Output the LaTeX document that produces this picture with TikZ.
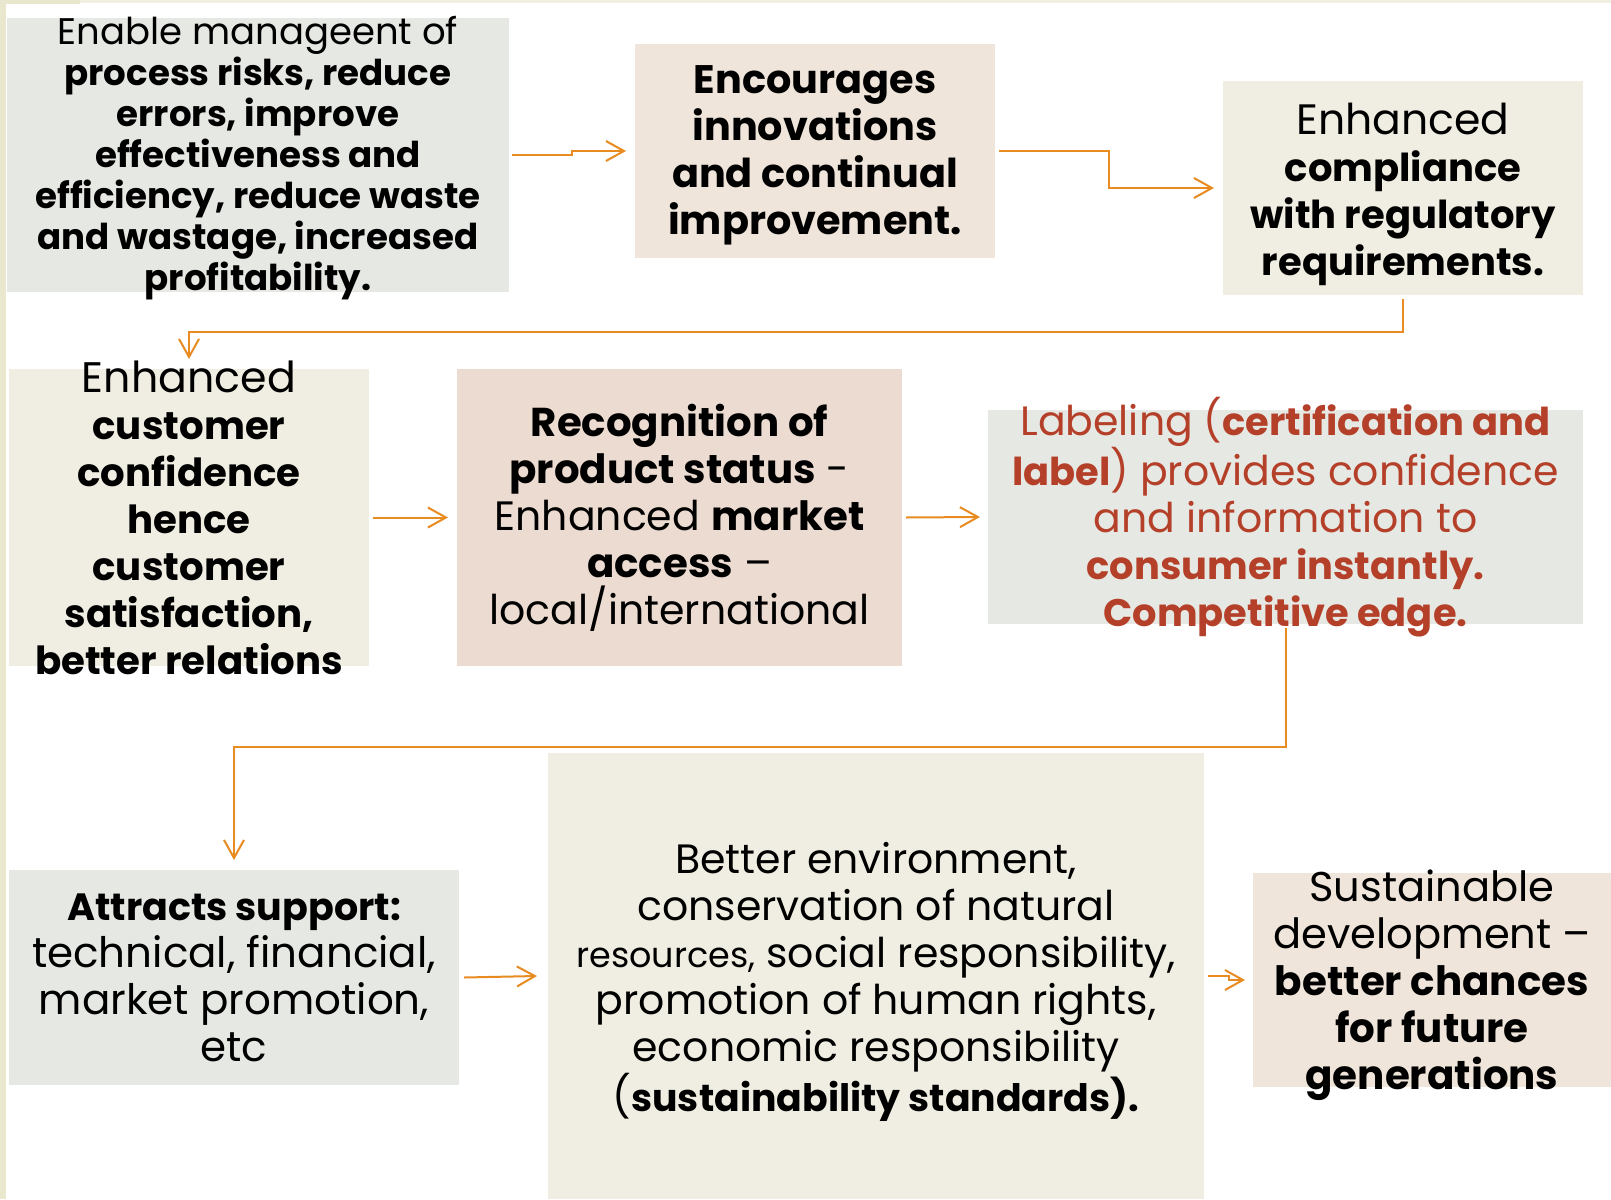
\documentclass[tikz,border=0pt]{standalone}
\usepackage{fontspec}
\setmainfont{Poppins}
\usetikzlibrary{arrows.meta}
\definecolor{cgrey}{HTML}{E6E8E3}
\definecolor{cbeige}{HTML}{EFE5DA}
\definecolor{ccream}{HTML}{F0EEE2}
\definecolor{cpink}{HTML}{ECDBD0}
\definecolor{cred}{HTML}{B5402A}
\definecolor{corange}{HTML}{E88B21}
\definecolor{cstrip}{HTML}{E9E7CE}
\definecolor{cstriptop}{HTML}{F1EFE0}
\newcommand\bx[2]{{\fontsize{#1}{47}\selectfont\bfseries #2}}
\begin{document}
\begin{tikzpicture}[x=1pt,y=-1pt,
  box/.style={inner sep=0pt, outer sep=0pt, anchor=north west},
  txt/.style={align=center, inner sep=0pt, text=black},
  arr/.style={draw=corange, line width=2pt, -{Straight Barb[length=18pt,width=20pt,line width=2pt]}}]
\useasboundingbox (0,0) rectangle (1611,1199);
\fill[white] (0,0) rectangle (1611,1199);
\fill[cstriptop] (0,0) rectangle (1611,3);
\fill[cstrip] (0,0) rectangle (80,4);
\fill[cstrip] (0,0) rectangle (6,1199);
% boxes
\node[box, fill=cgrey,  minimum width=502pt, minimum height=274pt] (bA) at (7,18) {};
\node[box, fill=cbeige, minimum width=360pt, minimum height=214pt] (bB) at (635,44) {};
\node[box, fill=ccream, minimum width=360pt, minimum height=214pt] (bC) at (1223,81) {};
\node[box, fill=ccream, minimum width=360pt, minimum height=297pt] (bD) at (9,369) {};
\node[box, fill=cpink,  minimum width=445pt, minimum height=297pt] (bE) at (457,369) {};
\node[box, fill=cgrey,  minimum width=595pt, minimum height=214pt] (bF) at (988,410) {};
\node[box, fill=cgrey,  minimum width=450pt, minimum height=215pt] (bG) at (9,870) {};
\node[box, fill=ccream, minimum width=656pt, minimum height=446pt] (bH) at (548,753) {};
\node[box, fill=cbeige, minimum width=358pt, minimum height=214pt] (bI) at (1253,873) {};
% texts
\node[txt, font=\fontsize{37}{41}\selectfont] (tA) at ([yshift=-3pt]bA.center)
  {Enable manageent of\\ \bx{35.6}{process risks, reduce}\\ \bx{35.6}{errors, improve}\\ \bx{35.6}{effectiveness and}\\ \bx{35.6}{efficiency, reduce waste}\\ \bx{35.6}{and wastage, increased}\\ \bx{35.6}{profitability.}};
\node[txt, font=\fontsize{39.8}{47}\selectfont\bfseries] (tB) at ([yshift=-4pt]bB.center)
  {Encourages\\ innovations\\ and continual\\ improvement.};
\node[txt, font=\fontsize{42.5}{47}\selectfont] (tC) at ([yshift=-6pt]bC.center)
  {Enhanced\\ \bx{38.5}{compliance}\\ \bx{38.5}{with regulatory}\\ \bx{38.5}{requirements.}};
\node[txt, font=\fontsize{42.7}{47}\selectfont] (tD) at (bD.center)
  {Enhanced\\ \bx{38.7}{customer}\\ \bx{38.7}{confidence}\\ \bx{38.7}{hence}\\ \bx{38.7}{customer}\\ \bx{38.7}{satisfaction,}\\ \bx{38.7}{better relations}};
\node[txt, font=\fontsize{41}{47}\selectfont] (tE) at (bE.center)
  {\bx{40.3}{Recognition of}\\ \bx{40.3}{product status} -\\ Enhanced \bx{40.3}{market}\\ \bx{40.3}{access} --\\ local/international};
\node[txt, text=cred, font=\fontsize{41}{47}\selectfont] (tF) at (bF.center)
  {Labeling (\bx{38.4}{certification and}\\ \bx{38.4}{label}) provides confidence\\ and information to\\ \bx{38.4}{consumer instantly.}\\ \bx{38.4}{Competitive edge.}};
\node[txt, font=\fontsize{42}{47}\selectfont] (tG) at (bG.center)
  {\bx{38}{Attracts support:}\\ technical, financial,\\ market promotion,\\ etc};
\node[txt, font=\fontsize{41}{47}\selectfont] (tH) at ([yshift=-6pt]bH.center)
  {Better environment,\\ conservation of natural\\ {\fontsize{35}{47}\selectfont resources,} social responsibility,\\ promotion of human rights,\\ economic responsibility\\ (\bx{37.8}{sustainability standards).}};
\node[txt, font=\fontsize{41.6}{47}\selectfont] (tI) at ([yshift=-5pt]bI.center)
  {Sustainable\\ development --\\ \bx{40.4}{better chances}\\ \bx{40.4}{for future}\\ \bx{40.4}{generations}};
% connectors
\draw[arr] ([xshift=3pt]bA.east) -- ++(60,0) |- ([xshift=-9pt]bB.west);
\draw[arr] ([xshift=4pt]bB.east) -- ++(110,0) |- ([xshift=-9pt]bC.west);
\draw[arr] ([yshift=-4pt]bC.south) -- ++(0,33) -| ([yshift=10pt]bD.north);
\draw[arr] ([xshift=4pt]bD.east) -- ([xshift=-9pt]bE.west);
\draw[arr] ([xshift=4pt]bE.east) -- ([xshift=-8pt]bF.west);
\draw[arr] ([yshift=-4pt]bF.south) -- ++(0,119) -| ([yshift=10pt]bG.north);
\draw[arr] ([xshift=5pt]bG.east) -- ([xshift=-11pt]bH.west);
\draw[arr] ([xshift=4pt]bH.east) -- ++(21,0) |- ([xshift=-8pt]bI.west);
\end{tikzpicture}
\end{document}
